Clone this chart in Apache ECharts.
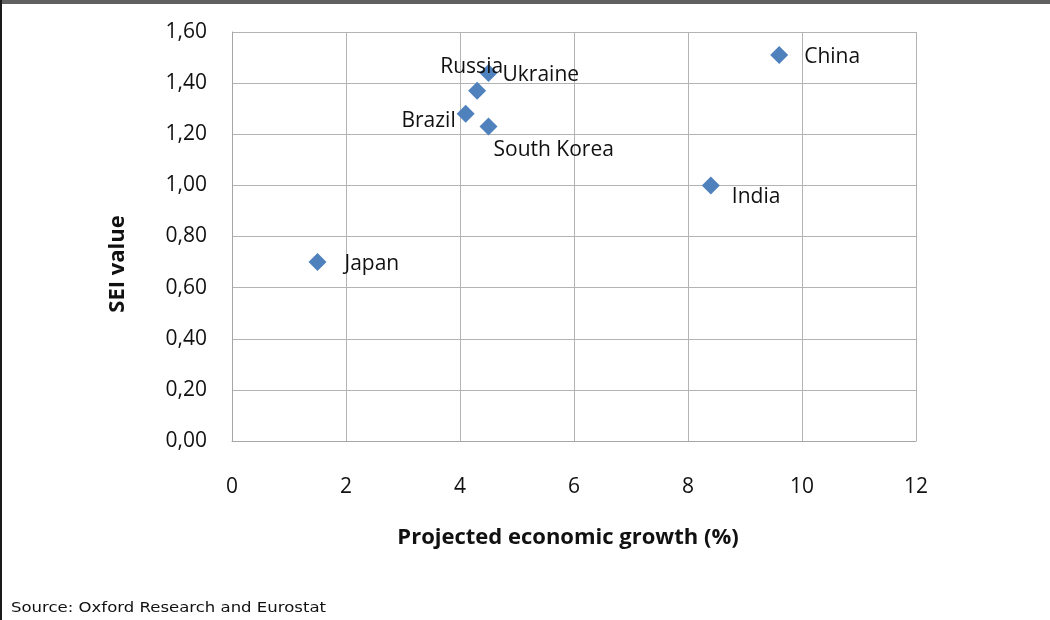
<!DOCTYPE html>
<html><head><meta charset="utf-8">
<script src="https://cdn.jsdelivr.net/npm/echarts@6/dist/echarts.min.js"></script>
<style>html,body{margin:0;padding:0;background:#fff}#c{width:1050px;height:620px}</style>
</head><body><div id="c"></div>
<script>
const countries = ['Japan','Brazil','Russia','Ukraine','South Korea','India','China'];
const growth = [1.5, 4.1, 4.3, 4.5, 4.5, 8.4, 9.6];
const sei = [0.70, 1.28, 1.37, 1.44, 1.23, 1.00, 1.51];
const xTitle = 'Projected economic growth (%)';
const yTitle = 'SEI value';
const source = 'Source: Oxford Research and Eurostat';

const labelStyle = {
  'Japan': {position:'right', offset:[18,2]},
  'Brazil': {position:'left', offset:[-1,7]},
  'Russia': {position:'left', offset:[35,-24]},
  'Ukraine': {position:'right', offset:[5,2]},
  'South Korea': {position:'right', offset:[-4,23]},
  'India': {position:'right', offset:[12,12]},
  'China': {position:'right', offset:[16,2]}
};
const FONT = '"Open Sans"';
const TXT = '#111';
const chart = echarts.init(document.getElementById('c'));
chart.setOption({
  animation:false,
  grid:{left:232,right:134,top:32,bottom:179},
  xAxis:{type:'value',min:0,max:12,interval:2,
    axisLine:{show:true,lineStyle:{color:'#a6a6a6'}},axisTick:{show:false},
    splitLine:{lineStyle:{color:'#b3b3b3'}},
    axisLabel:{margin:36,fontFamily:FONT,fontSize:21,color:TXT}},
  yAxis:{type:'value',min:0,max:1.6,interval:0.2,
    axisLine:{show:true,lineStyle:{color:'#a6a6a6'}},axisTick:{show:false},
    splitLine:{lineStyle:{color:'#b3b3b3'}},
    axisLabel:{margin:25,fontFamily:FONT,fontSize:21,color:TXT,
      formatter:v=>v.toFixed(2).replace('.',',')}},
  graphic:[
    {type:'rect',shape:{x:0,y:0,width:1050,height:4},style:{fill:'#606060'}},
    {type:'rect',shape:{x:0,y:0,width:2,height:620},style:{fill:'#1a1a1a'}},
    {type:'text',x:568,y:538,style:{text:xTitle,align:'center',verticalAlign:'middle',
      font:'bold 22px '+FONT,fill:TXT}},
    {type:'text',x:118,y:264,rotation:Math.PI/2,style:{text:yTitle,align:'center',verticalAlign:'middle',
      font:'bold 22px '+FONT,fill:TXT}},
    {type:'text',x:11,y:608,scaleX:1.18,style:{text:source,verticalAlign:'middle',font:'14px "DejaVu Sans"',fill:TXT}}
  ],
  series:[{type:'scatter',symbol:'diamond',symbolSize:18,
    itemStyle:{color:'#4f81bd',opacity:1},
    data:countries.map((c,i)=>({value:[growth[i],sei[i]],name:c,
      label:{show:true,formatter:c,distance:0,position:labelStyle[c].position,offset:labelStyle[c].offset,
        fontFamily:FONT,fontSize:21,color:TXT}}))
  }]
});
</script></body></html>
